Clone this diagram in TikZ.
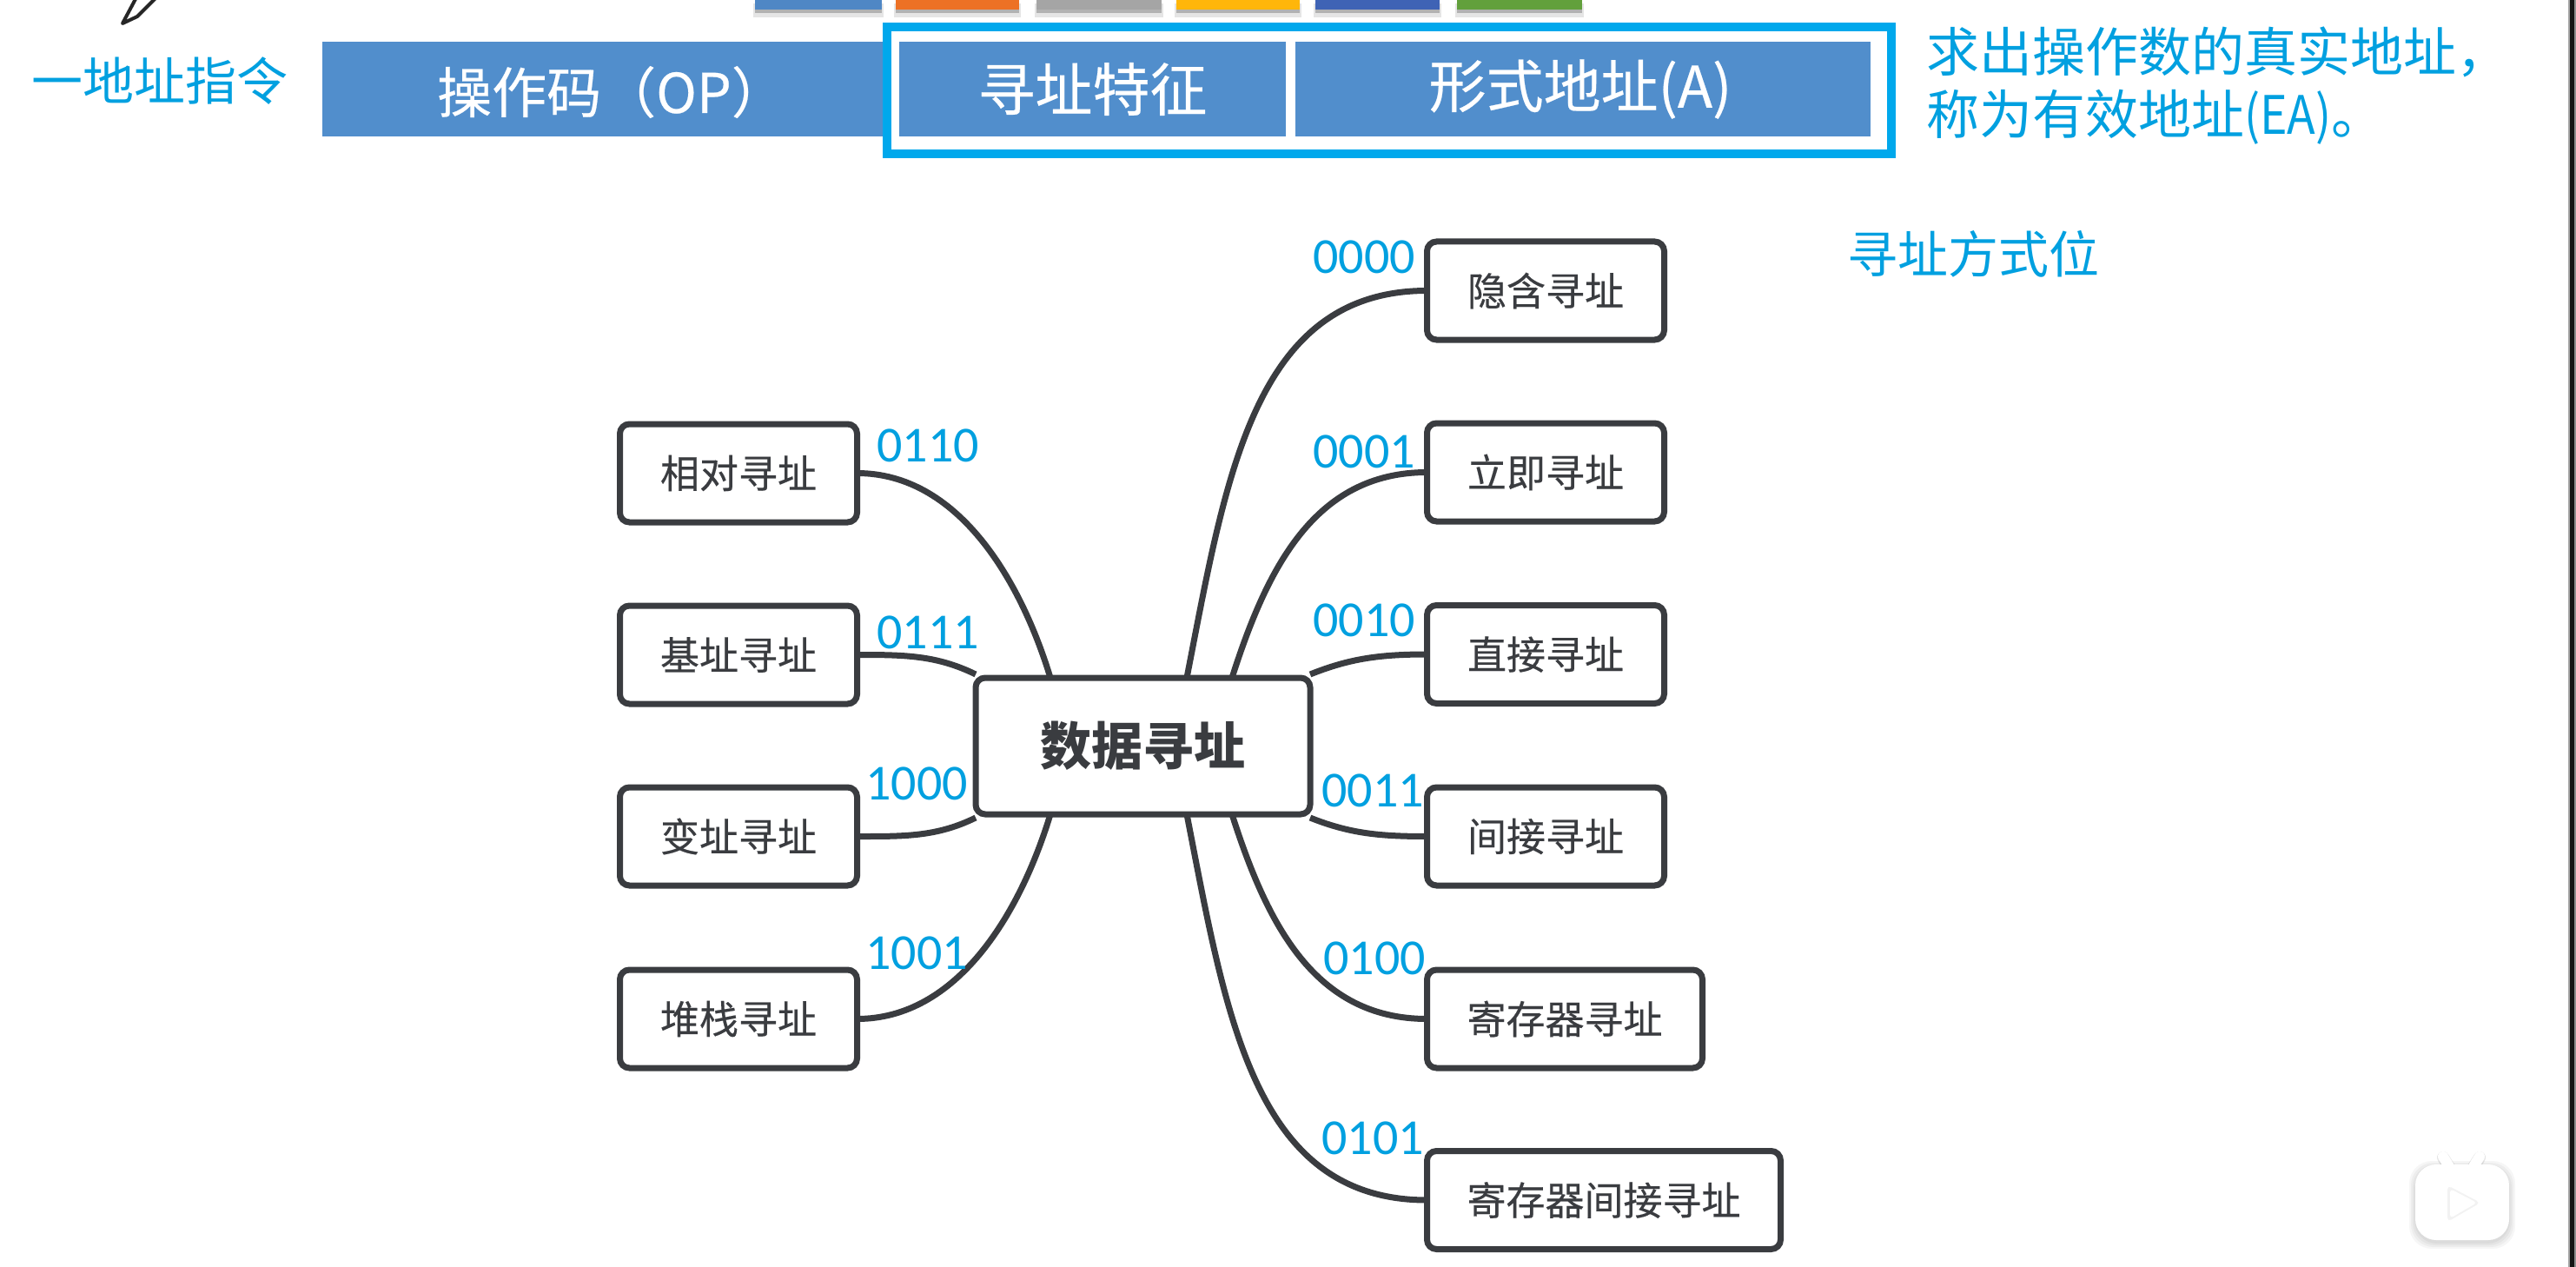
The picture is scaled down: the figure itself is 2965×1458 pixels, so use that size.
\documentclass[tikz,border=0pt]{standalone}
\usepackage{fontspec}
\setmainfont{Noto Sans CJK SC}
\newfontfamily\digitfont{Carlito}
\newfontfamily\heavyfont[FakeBold=0.35]{Noto Sans CJK SC}
\newfontfamily\narrowfont[FakeStretch=0.88]{Noto Sans CJK SC}
\newcommand{\fsz}[1]{\fontsize{#1bp}{#1bp}\selectfont}
\definecolor{barblue}{HTML}{518ECC}
\definecolor{framec}{HTML}{00A8EC}
\definecolor{txtblue}{HTML}{00A0E0}
\definecolor{inkc}{HTML}{3A3C40}
\tikzset{
  x=1bp,y=-1bp,
  cell/.style={fill=barblue,inner sep=0,outer sep=0,text=white,font=\heavyfont\fsz{66}},
  mbox/.style={draw=inkc,line width=7bp,rounded corners=11bp,fill=white,inner sep=0,outer sep=0,minimum height=113bp,text=inkc,font=\heavyfont\fsz{45}},
  link/.style={draw=inkc,line width=7bp},
  code/.style={text=txtblue,font=\digitfont\fsz{58},inner sep=0},
  note/.style={text=txtblue,anchor=west,inner sep=0}
}
\begin{document}
\begin{tikzpicture}
\useasboundingbox (0,0) rectangle (2965,1458);
\fill[white] (0,0) rectangle (2965,1458);
\fill[black!92] (2958,0) rectangle (2963,1458);
\fill[black!45] (2963,0) rectangle (2965,1458);
\fill[black!35] (2956,0) rectangle (2958,1458);

% colour swatches at the top edge
\foreach \xa/\xb/\c in {869/1015/4F87C5,1031/1173/ED7125,1193/1337/A5A5A5,1354/1496/FFB60A,1514/1657/3F63B5,1677/1821/62A03C}{
  \fill[black,opacity=.10] (\xa-2,4) rectangle (\xb+2,20);
  \fill[black,opacity=.22] (\xa,4) rectangle (\xb,15);
  \definecolor{sw}{HTML}{\c}
  \fill[sw] (\xa,0) rectangle (\xb,11);
}

% pen
\draw[black!85,line width=4bp,fill=white,line join=round] (157,-3) -- (141,27) -- (158,19) -- (180,-3);

% instruction bar
\node[cell,minimum width=660bp,minimum height=109bp] (op) at (701,102.5) {};
\node[text=white,font=\heavyfont\fsz{63},inner sep=0] (optx) at (704,106) {操作码（OP）};
\draw[framec,line width=10bp,fill=white] (1021,31) rectangle (2177,177);
\node[cell,minimum width=445bp,minimum height=109bp] (feat) at (1257.5,102.5) {\raisebox{-3bp}{寻址特征}};
\node[cell,minimum width=662bp,minimum height=109bp] (addr) at (1822,102.5) {\hspace{-6bp}\raisebox{-3bp}{形式地址(A)}};

\node[note,font=\fsz{59}] (one) at (36,93) {一地址指令};
\node[note,font=\fsz{61}] (l1) at (2217,60) {求出操作数的真实地址，};
\node[note,font=\fsz{61}] (l2) at (2217,135) {称为有效地址{\narrowfont\fsz{61}(EA)}。};
\node[note,font=\fsz{58}] (bits) at (2126,292) {寻址方式位};

% mind map
\node[mbox,minimum width=385bp,minimum height=157bp,font=\bfseries\fsz{59}] (cen) at (1315.5,858.5) {数据寻址};
\node[mbox,minimum width=273bp] (rel) at (850,544.5) {相对寻址};
\node[mbox,minimum width=273bp] (base) at (850,753.5) {基址寻址};
\node[mbox,minimum width=273bp] (var) at (850,962.5) {变址寻址};
\node[mbox,minimum width=273bp] (stk) at (850,1172.5) {堆栈寻址};
\node[mbox,minimum width=273bp] (imp) at (1779,334.5) {隐含寻址};
\node[mbox,minimum width=273bp] (imm) at (1779,543.5) {立即寻址};
\node[mbox,minimum width=273bp] (dir) at (1779,753) {直接寻址};
\node[mbox,minimum width=273bp] (ind) at (1779,962.5) {间接寻址};
\node[mbox,minimum width=317bp] (reg) at (1801,1172.5) {寄存器寻址};
\node[mbox,minimum width=407bp] (rin) at (1846,1381) {寄存器间接寻址};

\draw[link] (rel.east) .. controls +(115,0) and +(-35,-115) .. ([xshift=86bp]cen.north west);
\draw[link] (base.east) .. controls +(55,0) and +(-45,-22) .. ([yshift=4bp]cen.north west);
\draw[link] (var.east) .. controls +(55,0) and +(-45,22) .. ([yshift=-4bp]cen.south west);
\draw[link] (stk.east) .. controls +(115,0) and +(-35,115) .. ([xshift=86bp]cen.south west);
\draw[link] (imp.west) .. controls +(-200,0) and +(45,-230) .. ([xshift=-142bp]cen.north east);
\draw[link] (imm.west) .. controls +(-130,0) and +(40,-125) .. ([xshift=-90bp]cen.north east);
\draw[link] (dir.west) .. controls +(-55,0) and +(45,-18) .. ([yshift=4bp]cen.north east);
\draw[link] (ind.west) .. controls +(-55,0) and +(45,18) .. ([yshift=-4bp]cen.south east);
\draw[link] (reg.west) .. controls +(-130,0) and +(40,125) .. ([xshift=-90bp]cen.south east);
\draw[link] (rin.west) .. controls +(-200,0) and +(45,230) .. ([xshift=-142bp]cen.south east);

\node[code] (c1) at (1068,513) {0110};
\node[code] (c2) at (1068,728) {0111};
\node[code] (c3) at (1055,902) {1000};
\node[code] (c4) at (1055,1097) {1001};
\node[code] (c5) at (1570,296) {0000};
\node[code] (c6) at (1570,520) {0001};
\node[code] (c7) at (1570,714) {0010};
\node[code] (c8) at (1580,910) {0011};
\node[code] (c9) at (1582,1103) {0100};
\node[code] (c10) at (1580,1310) {0101};

% player badge
\foreach \g in {7,5,3,1}{
  \fill[black,opacity=.035,rounded corners=26bp] (2780-\g,1343-\g) rectangle (2888+\g,1430+\g);
}
\draw[black,opacity=.10,line width=14bp,line cap=round] (2812,1332) -- (2826,1354) (2854,1332) -- (2840,1354);
\draw[white,line width=12bp,line cap=round] (2812,1331) -- (2826,1354) (2854,1331) -- (2840,1354);
\fill[white,rounded corners=24bp] (2780,1340) rectangle (2888,1427);
\fill[black!5,rounded corners=5bp] (2817,1364) -- (2855,1384) -- (2817,1406) -- cycle;
\fill[white,rounded corners=4bp] (2820,1368) -- (2851,1384) -- (2820,1402) -- cycle;
\end{tikzpicture}
\end{document}
